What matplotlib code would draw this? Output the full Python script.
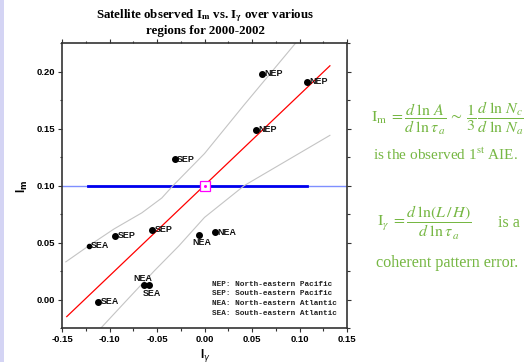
import matplotlib
matplotlib.use("Agg")
import matplotlib.pyplot as plt
from matplotlib.patches import Rectangle
from matplotlib.ticker import MultipleLocator, FormatStrFormatter

# ---------------- data ----------------
regions = ["NEP", "NEP", "NEP", "SEP", "SEP", "SEP", "SEA", "NEA", "NEA", "NEA", "SEA", "SEA"]
i_gamma = [0.061, 0.108, 0.054, -0.031, -0.094, -0.055, -0.122, -0.006, 0.011, -0.064, -0.058, -0.112]
i_m = [0.198, 0.191, 0.149, 0.123, 0.056, 0.061, 0.047, 0.057, 0.059, 0.013, 0.013, -0.002]

fit_x = [-0.145, 0.132]
fit_y = [-0.015, 0.205]

upper_x = [-0.146, -0.122, -0.095, -0.066, -0.045, -0.033, 0.0, 0.041, 0.096]
upper_y = [0.033, 0.047, 0.062, 0.076, 0.089, 0.100, 0.128, 0.170, 0.225]
lower_x = [-0.109, -0.080, -0.053, -0.027, 0.0, 0.042, 0.087, 0.132]
lower_y = [-0.025, 0.001, 0.025, 0.047, 0.072, 0.100, 0.122, 0.144]

mean_level = 0.10
mean_seg_x = [-0.123, 0.108]
center_pt = (0.0, 0.10)

legend_lines = ["NEP: North-eastern Pacific",
                "SEP: South-eastern Pacific",
                "NEA: North-eastern Atlantic",
                "SEA: South-eastern Atlantic"]

x_ticks = [-0.15, -0.10, -0.05, 0.00, 0.05, 0.10, 0.15]
y_ticks = [0.00, 0.05, 0.10, 0.15, 0.20]

# ---------------- figure ----------------
W, H = 524, 362
fig = plt.figure(figsize=(W / 100, H / 100), dpi=100)
fig.patch.set_facecolor("white")
fig.add_artist(Rectangle((0, 0), 4 / W, 1, transform=fig.transFigure,
                         facecolor="#d4d4f4", edgecolor="none"))

ax = fig.add_axes([62 / W, 1 - 328 / H, 285 / W, 285 / H])
ax.set_xlim(-0.15, 0.15)
ax.set_ylim(-0.025, 0.225)

# mean line
ax.axhline(mean_level, color="#7f8fff", lw=1.0, zorder=1)
ax.plot(mean_seg_x, [mean_level, mean_level], color="#0000ee", lw=2.0, zorder=2)

# confidence curves
ax.plot(upper_x, upper_y, color="#c4c4c4", lw=0.8, zorder=2)
ax.plot(lower_x, lower_y, color="#c4c4c4", lw=0.8, zorder=2)

# regression line
ax.plot(fit_x, fit_y, color="#ff0000", lw=0.9, zorder=3)

# center marker
ax.plot([center_pt[0]], [center_pt[1]], marker="s", ms=7, mfc="white",
        mec="#ff00ff", mew=0.9, ls="none", zorder=5)
ax.plot([center_pt[0]], [center_pt[1]], marker="o", ms=1.2, color="#ff00ff",
        ls="none", zorder=6)

# points
sizes = [4.0] * len(regions)
sizes[6] = 3.0
for xv, yv, s in zip(i_gamma, i_m, sizes):
    ax.plot([xv], [yv], "o", color="black", ms=s, zorder=6)

# label offsets in points (dx, dy, ha, va)
offsets = {i: (1.6, 0, "left", "center") for i in range(len(regions))}
offsets[7] = (2.5, -5.8, "center", "center")
offsets[9] = (-0.5, 4.8, "center", "center")
offsets[10] = (1.5, -6.0, "center", "center")
for i, (name, xv, yv) in enumerate(zip(regions, i_gamma, i_m)):
    dx, dy, ha, va = offsets[i]
    ax.annotate(name, (xv, yv), xytext=(dx, dy), textcoords="offset points",
                ha=ha, va=va, fontsize=6.4, family="Liberation Sans",
                fontweight="bold", color="#111111", zorder=7)

# legend text
for k, line in enumerate(legend_lines):
    fig.text(212 / W, 1 - (284 + 9.7 * k) / H, line, family="Liberation Mono",
             fontweight="bold", fontsize=5.6, color="#222222", va="center", ha="left")

# ticks
ax.xaxis.set_minor_locator(MultipleLocator(0.025))
ax.yaxis.set_minor_locator(MultipleLocator(0.025))
ax.set_xticks(x_ticks)
ax.set_yticks(y_ticks)
ax.xaxis.set_major_formatter(FormatStrFormatter("%.2f"))
ax.yaxis.set_major_formatter(FormatStrFormatter("%.2f"))
ax.tick_params(which="both", direction="out", top=True, right=True,
               color="#333333", width=0.8)
ax.tick_params(which="major", length=3.2, pad=2)
ax.tick_params(which="minor", length=1.8)
ax.tick_params(labeltop=False, labelright=False)
for lab in ax.get_xticklabels() + ax.get_yticklabels():
    lab.set_fontfamily("Liberation Sans")
    lab.set_fontweight("bold")
    lab.set_fontsize(6.8)
for sp in ax.spines.values():
    sp.set_color("#333333")
    sp.set_linewidth(1.2)

# axis labels
fig.text(22 / W, 1 - 186 / H, r"I$_\mathbf{m}$", rotation=90, ha="center", va="center",
         family="Liberation Sans", fontweight="bold", fontsize=8.5, math_fontfamily="dejavusans")
fig.text(205 / W, 1 - 355 / H, r"I$_\gamma$", ha="center", va="center",
         family="Liberation Sans", fontweight="bold", fontsize=8.5, math_fontfamily="dejavusans")

# title
fig.text(205 / W, 1 - 16 / H, r"Satellite observed I$_{\mathbf{m}}$ vs. I$_{\mathbf{\gamma}}$ over various",
         ha="center", va="center", family="Liberation Serif", fontweight="bold",
         fontsize=9.3, math_fontfamily="stix")
fig.text(205 / W, 1 - 31 / H, "regions for 2000-2002", ha="center", va="center",
         family="Liberation Serif", fontweight="bold", fontsize=9.3)

# right-side annotations
green = "#76b743"
fig.text(371 / W, 1 - 118 / H,
         r"$\mathrm{I}_{\mathrm{m}}\;=\dfrac{d\;\ln\,A}{d\;\ln\tau_{\,a}}\,\sim\,\dfrac{1}{3}\,\dfrac{d\;\ln\,N_c}{d\;\ln\,N_a}$",
         ha="left", va="center", color=green, fontsize=11.5, math_fontfamily="stix")
fig.text(373 / W, 1 - 155 / H, r"is the observed 1$^{\mathrm{st}}$ AIE.", ha="left", va="center",
         color=green, fontsize=11.0, family="Liberation Serif", math_fontfamily="stix")
fig.text(377 / W, 1 - 223 / H,
         r"$\mathrm{I}_{\gamma}\;=\dfrac{d\;\ln(L\,/\,H)}{d\;\ln\tau_{\,a}}$",
         ha="left", va="center", color=green, fontsize=11.5, math_fontfamily="stix")
fig.text(498 / W, 1 - 223 / H, "is a", ha="left", va="center", color=green,
         fontsize=11.6, family="Liberation Serif")
fig.text(376 / W, 1 - 263 / H, "coherent pattern error.", ha="left", va="center",
         color=green, fontsize=11.6, family="Liberation Serif")

fig.savefig("out.png", dpi=100)
